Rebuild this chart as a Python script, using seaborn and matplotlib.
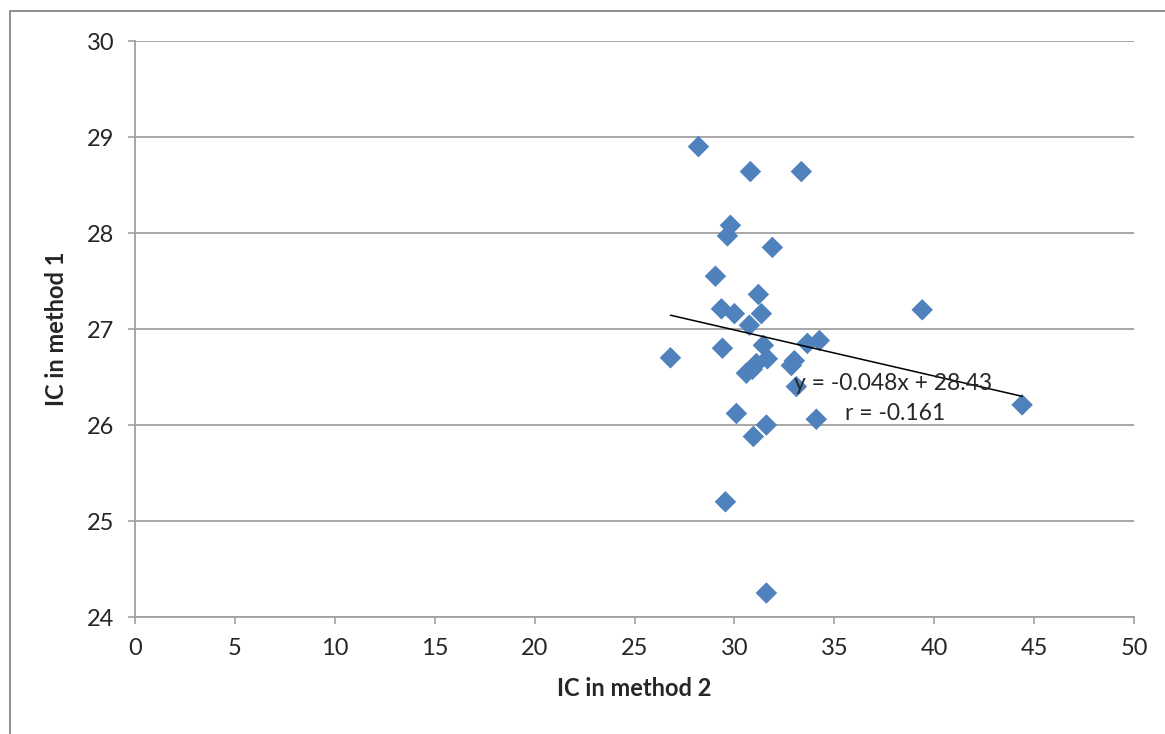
import numpy as np
import pandas as pd
import matplotlib
matplotlib.use("Agg")
import matplotlib.pyplot as plt
from matplotlib.patches import Rectangle
import seaborn as sns

# ---- data ----
ic_method2 = [28.2, 30.8, 33.35, 29.8, 29.65, 31.9, 29.05, 31.2, 29.35, 30.0,
              31.35, 30.75, 26.8, 29.4, 31.45, 33.65, 34.25, 31.1, 31.65, 30.9,
              30.6, 33.0, 32.85, 33.1, 30.1, 31.6, 30.95, 34.1, 39.4, 44.4,
              29.55, 31.6]
ic_method1 = [28.90, 28.64, 28.64, 28.08, 27.97, 27.85, 27.55, 27.36, 27.21, 27.16,
              27.16, 27.04, 26.70, 26.80, 26.83, 26.85, 26.88, 26.64, 26.69, 26.58,
              26.54, 26.67, 26.62, 26.40, 26.12, 26.00, 25.88, 26.06, 27.20, 26.21,
              25.20, 24.25]
trend_slope = -0.048
trend_intercept = 28.43
r_value = -0.161
x_ticks = [0, 5, 10, 15, 20, 25, 30, 35, 40, 45, 50]
y_ticks = [24, 25, 26, 27, 28, 29, 30]

df = pd.DataFrame({"IC in method 2": ic_method2, "IC in method 1": ic_method1})

sns.set_style("white")
plt.rcParams['font.family'] = ['Lato', 'DejaVu Sans']

fig = plt.figure(figsize=(11.65, 7.34), dpi=100)
ax = fig.add_axes([135/1165, 1-617/734, (1134-135)/1165, (617-41)/734])

# outer chart border
fig.patches.append(Rectangle((10/1165, -0.5), 2.0, 1.5 - 11/734, transform=fig.transFigure,
                             fill=False, edgecolor="#868686", linewidth=1.3, zorder=0))

gray = "#A0A0A0"
for y in y_ticks:
    ax.axhline(y, color=gray, linewidth=1.3, zorder=1)

sns.scatterplot(data=df, x="IC in method 2", y="IC in method 1", marker="D",
                s=120, color="#4F81BD", edgecolor="none", linewidth=0, ax=ax, zorder=3)

xs = np.array([min(ic_method2), max(ic_method2)])
ax.plot(xs, trend_slope * xs + trend_intercept, color="black", linewidth=1.1, zorder=4)

ax.text(33.0, 26.43, f"y = {trend_slope}x + {trend_intercept}", fontsize=16.5,
        va="center", ha="left", zorder=5)
ax.text(35.55, 26.12, f"r = {r_value}", fontsize=16.5, va="center", ha="left", zorder=5)

ax.set_xlim(0, 50)
ax.set_ylim(24, 30)
ax.set_xticks(x_ticks)
ax.set_yticks(y_ticks)
ax.tick_params(axis="both", direction="out", length=5, width=1.2, color=gray,
               labelsize=17, pad=10, bottom=True, left=True)
for side in ["top", "right"]:
    ax.spines[side].set_visible(False)
for side in ["left", "bottom"]:
    ax.spines[side].set_color(gray)
    ax.spines[side].set_linewidth(1.3)

ax.set_xlabel("IC in method 2", fontsize=17, fontweight="bold", labelpad=13)
ax.set_ylabel("IC in method 1", fontsize=17, fontweight="bold", labelpad=13)

fig.savefig("out.png", dpi=100)
